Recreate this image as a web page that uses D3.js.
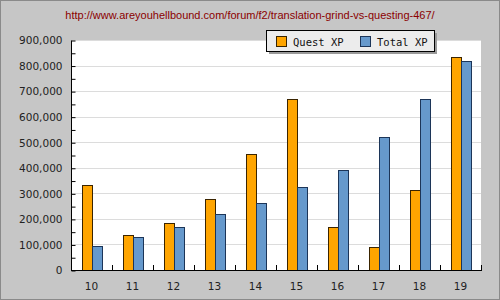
<!DOCTYPE html>
<html>
<head>
<meta charset="utf-8">
<script src="https://cdn.jsdelivr.net/npm/d3@7"></script>
<style>
  body { margin: 0; }
  svg { display: block; }
</style>
</head>
<body>
<div id="chart"></div>
<script>
const levels = ["10", "11", "12", "13", "14", "15", "16", "17", "18", "19"];
const questXP = [331000, 136000, 183000, 279000, 454000, 668000, 167000, 89000, 312000, 833000];
const totalXP = [94000, 128000, 167000, 219000, 263000, 324000, 390000, 519000, 668000, 817000];
const seriesNames = ["Quest XP", "Total XP"];
const yTicks = [0, 100000, 200000, 300000, 400000, 500000, 600000, 700000, 800000, 900000];
const titleText = "http://www.areyouhellbound.com/forum/f2/translation-grind-vs-questing-467/";

const width = 500, height = 300;
const plot = { left: 71, right: 481, top: 40, bottom: 270 };
const colors = ["#ffa500", "#6699cc"];
const strokes = ["#3a2400", "#1c3558"];

const svg = d3.select("#chart").append("svg")
    .attr("width", width)
    .attr("height", height);

svg.append("rect")
    .attr("x", 0.5).attr("y", 0.5)
    .attr("width", width - 1).attr("height", height - 1)
    .attr("fill", "#c6c6c6")
    .attr("stroke", "#8a8a8a");

svg.append("text")
    .attr("x", 250).attr("y", 19)
    .attr("text-anchor", "middle")
    .attr("font-family", "Liberation Sans, Arial, sans-serif")
    .attr("font-size", 11)
    .attr("fill", "#8b0000")
    .text(titleText);

const x = d3.scaleBand().domain(levels).range([plot.left, plot.right]);
const y = d3.scaleLinear().domain([0, 900000]).range([plot.bottom, plot.top]);

svg.append("rect")
    .attr("x", plot.left).attr("y", plot.top)
    .attr("width", plot.right - plot.left).attr("height", plot.bottom - plot.top)
    .attr("fill", "#fff");

// grid
svg.append("g")
    .selectAll("line")
    .data(yTicks.slice(1))
    .join("line")
    .attr("x1", plot.left).attr("x2", plot.right)
    .attr("y1", d => Math.round(y(d)) + 0.5).attr("y2", d => Math.round(y(d)) + 0.5)
    .attr("stroke", "#dcdcdc");

// bars
const barW = 10;
const groups = [questXP, totalXP];
groups.forEach((vals, s) => {
    svg.append("g")
        .selectAll("rect")
        .data(vals)
        .join("rect")
        .attr("x", (d, i) => Math.round(x(levels[i]) + x.bandwidth() / 2 - barW + s * barW) + 0.5)
        .attr("y", d => Math.round(y(d)) + 0.5)
        .attr("width", barW)
        .attr("height", d => plot.bottom - Math.round(y(d)))
        .attr("fill", colors[s])
        .attr("stroke", strokes[s]);
});

// y axis
const yAxis = d3.axisLeft(y)
    .tickValues(d3.range(0, 900001, 50000))
    .tickSize(-4)
    .tickFormat(d => d % 100000 === 0 ? d3.format(",")(d) : "");

const gy = svg.append("g")
    .attr("transform", `translate(${plot.left + 0.5},0.5)`)
    .call(yAxis);
gy.select(".domain").attr("stroke", "#000").attr("d", `M0,${plot.top}V${plot.bottom}`);
gy.selectAll(".tick line").attr("stroke", "#000");
gy.selectAll(".tick text")
    .attr("x", -9)
    .attr("font-family", "DejaVu Sans, Verdana, sans-serif")
    .attr("font-size", 10.5)
    .attr("fill", "#222");

// x axis
const boundaries = levels.map(l => x(l)).concat([plot.right]);
const gx = svg.append("g");
gx.append("line")
    .attr("x1", plot.left).attr("x2", plot.right + 1)
    .attr("y1", plot.bottom + 0.5).attr("y2", plot.bottom + 0.5)
    .attr("stroke", "#000");
gx.selectAll("line.tk")
    .data(boundaries.slice(1))
    .join("line")
    .attr("class", "tk")
    .attr("x1", d => Math.round(d) + 0.5).attr("x2", d => Math.round(d) + 0.5)
    .attr("y1", plot.bottom).attr("y2", plot.bottom - 5)
    .attr("stroke", "#000");
gx.selectAll("text")
    .data(levels)
    .join("text")
    .attr("x", d => x(d) + x.bandwidth() / 2)
    .attr("y", 290)
    .attr("text-anchor", "middle")
    .attr("font-family", "DejaVu Sans, Verdana, sans-serif")
    .attr("font-size", 10.5)
    .attr("fill", "#222")
    .text(d => d);

// legend
const lg = svg.append("g").attr("transform", "translate(266,30)");
lg.append("rect")
    .attr("x", 3).attr("y", 3).attr("width", 168).attr("height", 21)
    .attr("fill", "#9a9a9a");
lg.append("rect")
    .attr("x", 0.5).attr("y", 0.5).attr("width", 168).attr("height", 21)
    .attr("fill", "#ececec").attr("stroke", "#000");
const items = lg.selectAll("g.item")
    .data(seriesNames)
    .join("g")
    .attr("class", "item")
    .attr("transform", (d, i) => `translate(${10 + i * 84},6)`);
items.append("rect")
    .attr("x", 0.5).attr("y", 0.5).attr("width", 10).attr("height", 10)
    .attr("fill", (d, i) => colors[i])
    .attr("stroke", (d, i) => strokes[i]);
items.append("text")
    .attr("x", 17).attr("y", 10)
    .attr("font-family", "DejaVu Sans Mono, monospace")
    .attr("font-size", 10.5)
    .attr("fill", "#111")
    .text(d => d);
</script>
</body>
</html>
